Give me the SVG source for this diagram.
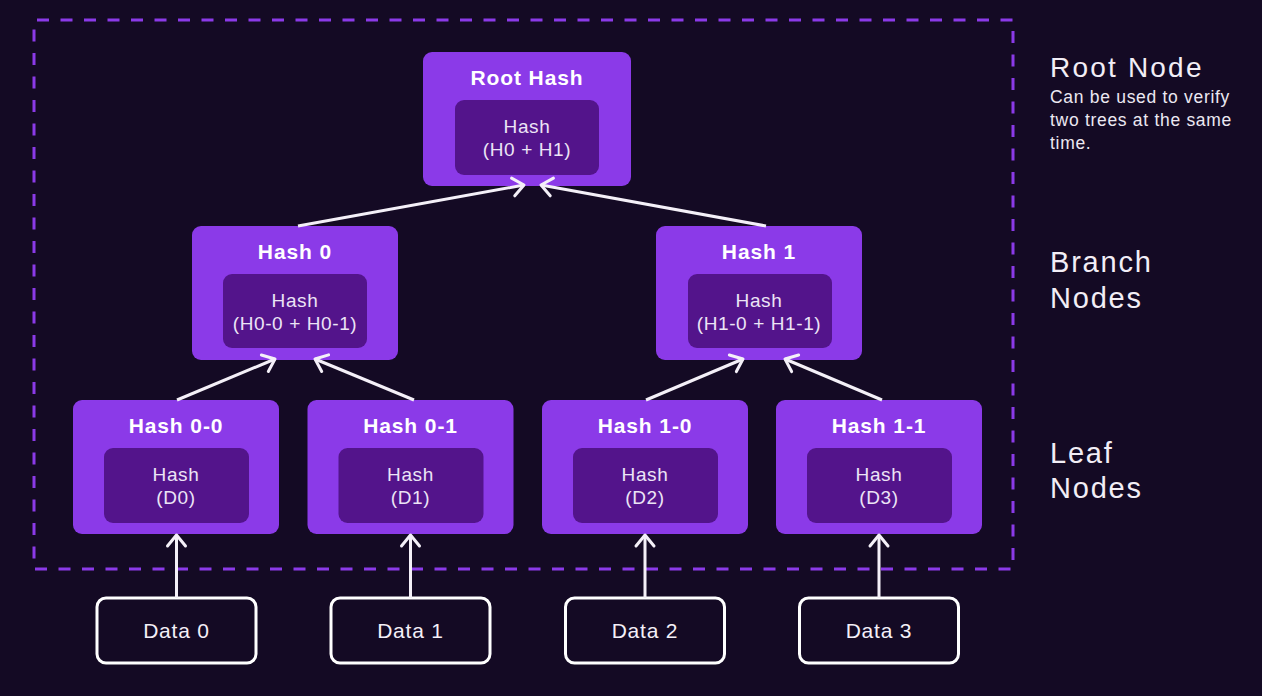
<svg xmlns="http://www.w3.org/2000/svg" width="1262" height="696" viewBox="0 0 1262 696">
  <defs>
    <style>
      .outer{fill:#8b3ae8}
      .inner{fill:#53148b}
      .title{font-family:"Liberation Sans",Arial,sans-serif;font-weight:bold;font-size:21px;fill:#ffffff;text-anchor:middle;letter-spacing:0.9px}
      .hash{font-family:"Liberation Sans",Arial,sans-serif;font-size:19px;fill:#ece4f6;text-anchor:middle;letter-spacing:0.6px}
      .databox{fill:none;stroke:#ffffff;stroke-width:3}
      .datatext{font-family:"Liberation Sans",Arial,sans-serif;font-size:21px;fill:#f4f0f8;text-anchor:middle;letter-spacing:0.8px}
      .conn{stroke:#f4f0f8;stroke-width:3;fill:none;marker-end:url(#chev)}
      .label{font-family:"Liberation Sans",Arial,sans-serif;font-size:29px;fill:#f2eef6;letter-spacing:1.8px}
      .note{font-family:"Liberation Sans",Arial,sans-serif;font-size:17.5px;fill:#ece8f2;letter-spacing:0.7px}
    </style>
    <marker id="chev" markerUnits="userSpaceOnUse" viewBox="-14 -12 16 24" markerWidth="16" markerHeight="24" refX="0" refY="0" orient="auto" overflow="visible">
      <path d="M-11,-9 L0,0 L-11,9" fill="none" stroke="#f4f0f8" stroke-width="3" stroke-linecap="round" stroke-linejoin="round"/>
    </marker>
  </defs>

  <rect x="0" y="0" width="1262" height="696" fill="#140a24"/>

  <rect id="boundary" x="34" y="20" width="979" height="549" fill="none" stroke="#8b3ae8" stroke-width="3" stroke-dasharray="12 11.5" stroke-dashoffset="20.5"/>

  <g id="root">
    <rect class="outer" x="423" y="52" width="208" height="134" rx="9"/>
    <rect class="inner" x="455" y="100" width="144" height="75" rx="9"/>
    <text class="title" x="527" y="85">Root Hash</text>
    <text class="hash" x="527" y="133">Hash</text>
    <text class="hash" x="527" y="156">(H0 + H1)</text>
  </g>

  <g id="hash0">
    <rect class="outer" x="192" y="226" width="206" height="134" rx="9"/>
    <rect class="inner" x="223" y="274" width="144" height="74" rx="9"/>
    <text class="title" x="295" y="259">Hash 0</text>
    <text class="hash" x="295" y="307">Hash</text>
    <text class="hash" x="295" y="330">(H0-0 + H0-1)</text>
  </g>

  <g id="hash1">
    <rect class="outer" x="656" y="226" width="206" height="134" rx="9"/>
    <rect class="inner" x="688" y="274" width="144" height="74" rx="9"/>
    <text class="title" x="759" y="259">Hash 1</text>
    <text class="hash" x="759" y="307">Hash</text>
    <text class="hash" x="759" y="330">(H1-0 + H1-1)</text>
  </g>

  <g id="hash00">
    <rect class="outer" x="73" y="400" width="206" height="134" rx="9"/>
    <rect class="inner" x="104" y="448" width="145" height="75" rx="9"/>
    <text class="title" x="176" y="433">Hash 0-0</text>
    <text class="hash" x="176" y="481">Hash</text>
    <text class="hash" x="176" y="504">(D0)</text>
  </g>

  <g id="hash01">
    <rect class="outer" x="307.5" y="400" width="206" height="134" rx="9"/>
    <rect class="inner" x="338.5" y="448" width="145" height="75" rx="9"/>
    <text class="title" x="410.5" y="433">Hash 0-1</text>
    <text class="hash" x="410.5" y="481">Hash</text>
    <text class="hash" x="410.5" y="504">(D1)</text>
  </g>

  <g id="hash10">
    <rect class="outer" x="542" y="400" width="206" height="134" rx="9"/>
    <rect class="inner" x="573" y="448" width="145" height="75" rx="9"/>
    <text class="title" x="645" y="433">Hash 1-0</text>
    <text class="hash" x="645" y="481">Hash</text>
    <text class="hash" x="645" y="504">(D2)</text>
  </g>

  <g id="hash11">
    <rect class="outer" x="776" y="400" width="206" height="134" rx="9"/>
    <rect class="inner" x="807" y="448" width="145" height="75" rx="9"/>
    <text class="title" x="879" y="433">Hash 1-1</text>
    <text class="hash" x="879" y="481">Hash</text>
    <text class="hash" x="879" y="504">(D3)</text>
  </g>

  <g id="data0">
    <rect class="databox" x="97" y="598" width="159" height="65" rx="9"/>
    <text class="datatext" x="176.5" y="638">Data 0</text>
  </g>
  <g id="data1">
    <rect class="databox" x="331" y="598" width="159" height="65" rx="9"/>
    <text class="datatext" x="410.5" y="638">Data 1</text>
  </g>
  <g id="data2">
    <rect class="databox" x="565.5" y="598" width="159" height="65" rx="9"/>
    <text class="datatext" x="645" y="638">Data 2</text>
  </g>
  <g id="data3">
    <rect class="databox" x="799.5" y="598" width="159" height="65" rx="9"/>
    <text class="datatext" x="879" y="638">Data 3</text>
  </g>

  <g id="connectors">
    <line class="conn" x1="298" y1="226" x2="524" y2="185"/>
    <line class="conn" x1="766" y1="226" x2="541" y2="185"/>
    <line class="conn" x1="177" y1="400" x2="275" y2="359"/>
    <line class="conn" x1="414" y1="400" x2="315" y2="359"/>
    <line class="conn" x1="646" y1="400" x2="743" y2="359"/>
    <line class="conn" x1="882" y1="400" x2="785" y2="359"/>
    <line class="conn" x1="176.5" y1="598" x2="176.5" y2="535"/>
    <line class="conn" x1="410.5" y1="598" x2="410.5" y2="535"/>
    <line class="conn" x1="645" y1="598" x2="645" y2="535"/>
    <line class="conn" x1="879" y1="598" x2="879" y2="535"/>
  </g>

  <g id="labels">
    <text class="label" x="1050" y="77" style="font-size:28px;letter-spacing:2.2px">Root Node</text>
    <text class="note" x="1050" y="103">Can be used to verify</text>
    <text class="note" x="1050" y="126">two trees at the same</text>
    <text class="note" x="1050" y="149">time.</text>
    <text class="label" x="1050" y="272">Branch</text>
    <text class="label" x="1050" y="308">Nodes</text>
    <text class="label" x="1050" y="463">Leaf</text>
    <text class="label" x="1050" y="498">Nodes</text>
  </g>
</svg>
